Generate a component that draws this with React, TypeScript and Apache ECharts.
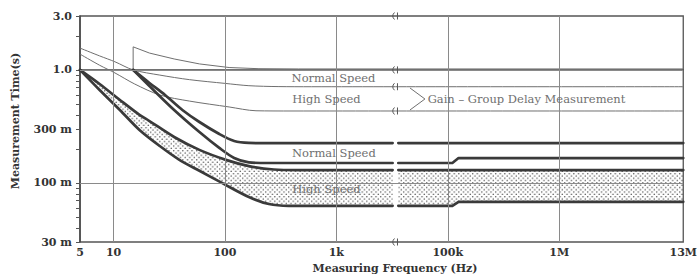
import React, { useEffect, useRef } from "react";
import * as echarts from "echarts";

// ---- axes ----
const xTickFreqs = [5, 10, 100, 1000, 100000, 1000000, 13000000];
const xTickLabels = ["5", "10", "100", "1k", "100k", "1M", "13M"];
const xGridFreqs = [10, 100, 1000, 100000, 1000000];
const yTickTimes = [0.03, 0.1, 0.3, 1, 3];
const yTickLabels = ["30 m", "100 m", "300 m", "1.0", "3.0"];
const yMinorTimes = [0.04, 0.05, 0.06, 0.07, 0.08, 0.09, 0.2, 0.4, 0.5, 0.6, 0.7, 0.8, 0.9, 2];
const yGridTimes = [0.1, 1];

// axis break (frequency gap)
const BREAK_LO = 3200;
const BREAK_HI = 36000;

// ---- Gain - Group Delay measurement (thin curves) [Hz, s] ----
const gdTop = [[15, 1.0], [15, 1.6], [21, 1.41], [35, 1.25], [59, 1.13], [109, 1.05], [202, 1.025], [459, 1.02], [BREAK_LO, 1.02], [BREAK_HI, 1.02], [13000000, 1.02]];
const gdNormal = [[5, 1.56], [7.5, 1.33], [10.3, 1.18], [15, 1.0], [26, 0.9], [48, 0.82], [100, 0.76], [164, 0.725], [300, 0.712], [600, 0.71], [BREAK_LO, 0.71], [BREAK_HI, 0.71], [13000000, 0.71]];
const gdHigh = [[5, 1.38], [7.5, 1.1], [10.3, 0.94], [15.5, 0.75], [26, 0.6], [48, 0.53], [109, 0.47], [190, 0.435], [400, 0.433], [BREAK_LO, 0.433], [BREAK_HI, 0.433], [13000000, 0.433]];

// ---- other measurement, Normal Speed (thick curves) ----
const nsUpper = [[15, 1.0], [21, 0.766], [29, 0.6], [41.5, 0.442], [59, 0.346], [89, 0.271], [121, 0.235], [164, 0.226], [248, 0.225], [BREAK_LO, 0.225], [BREAK_HI, 0.225], [13000000, 0.225]];
const nsLower = [[15, 1.0], [21, 0.72], [35, 0.442], [59, 0.282], [89, 0.204], [121, 0.166], [164, 0.152], [248, 0.15], [BREAK_LO, 0.15], [BREAK_HI, 0.15], [110000, 0.15], [125000, 0.166], [13000000, 0.166]];

// ---- High Speed band (dotted) ----
const hsUpper = [[5, 1.0], [7.5, 0.75], [11.4, 0.542], [17.1, 0.4], [21, 0.353], [35, 0.255], [59, 0.196], [102, 0.16], [164, 0.141], [275, 0.1315], [459, 0.13], [BREAK_LO, 0.13], [BREAK_HI, 0.13], [13000000, 0.13]];
const hsLower = [[5, 1.0], [7.5, 0.664], [11.4, 0.442], [17.1, 0.294], [26, 0.212], [39, 0.16], [59, 0.128], [94, 0.1], [164, 0.075], [248, 0.065], [374, 0.0627], [BREAK_LO, 0.0627], [BREAK_HI, 0.0627], [110000, 0.0627], [125000, 0.068], [13000000, 0.068]];

// ---- helpers ----
const tx = (f: number) => (f >= BREAK_HI ? Math.log10(f) - 1 : Math.log10(f));
const ty = (v: number) => Math.log10(v);
const toXY = (pts: number[][]) => pts.map(([f, v]) => [tx(f), ty(v)]);
const leftPart = (pts: number[][]) => pts.filter((p) => p[0] <= BREAK_LO);
const rightPart = (pts: number[][]) => pts.filter((p) => p[0] >= BREAK_HI);

const SERIF = '"DejaVu Serif", "Liberation Serif", serif';
const THICK = "#3a3a3a";
const THIN = "#6f6f6f";

export default function App() {
  const ref = useRef<HTMLDivElement>(null);
  useEffect(() => {
    document.body.style.margin = "0";
    if (!ref.current) return;
    const chart = echarts.init(ref.current, undefined, { renderer: "svg" });

    const cv = document.createElement("canvas");
    cv.width = 10;
    cv.height = 10;
    const ctx = cv.getContext("2d")!;
    ctx.fillStyle = "rgba(55,55,55,0.9)";
    [[2.5, 2.5], [7.5, 7.5]].forEach(([x, y]) => {
      ctx.beginPath();
      ctx.arc(x, y, 1.6, 0, Math.PI * 2);
      ctx.fill();
    });
    const dots: any = { image: cv, repeat: "repeat", imageWidth: 4.6, imageHeight: 4.6 };

    const thinLine = (name: string, pts: number[][], extra: any = {}) => ({
      name,
      type: "line",
      data: toXY(pts),
      showSymbol: false,
      symbol: "none",
      silent: true,
      z: 3,
      lineStyle: { color: THIN, width: 1 },
      ...extra,
    });
    const thickLine = (name: string, pts: number[][], smooth: number | boolean = false) => ({
      name,
      type: "line",
      data: toXY(pts),
      showSymbol: false,
      symbol: "none",
      silent: true,
      smooth,
      z: 4,
      lineStyle: { color: THICK, width: 2.7, cap: "round", join: "round" },
    });

    const labelFor = (vals: number[], labels: string[], f: (n: number) => number) => (value: number) => {
      const i = vals.findIndex((t) => Math.abs(f(t) - value) < 1e-6);
      return i >= 0 ? labels[i] : "";
    };

    const option: any = {
      animation: false,
      backgroundColor: "#ffffff",
      grid: { left: 80, right: 13, top: 16, bottom: 34, show: true, borderColor: "#555", borderWidth: 1.3 },
      xAxis: {
        type: "value",
        min: tx(5),
        max: tx(13000000),
        axisLine: { show: true, lineStyle: { color: "#444", width: 1.5 } },
        axisTick: { show: false },
        splitLine: { show: false },
        axisLabel: {
          customValues: xTickFreqs.map(tx),
          formatter: labelFor(xTickFreqs, xTickLabels, tx),
          showMinLabel: true,
          showMaxLabel: true,
          color: "#333",
          fontFamily: SERIF,
          fontWeight: "bold",
          fontSize: 11,
          margin: 5,
        },
      },
      yAxis: {
        type: "value",
        min: ty(0.03),
        max: ty(3),
        axisLine: { show: true, lineStyle: { color: "#444", width: 1.5 } },
        axisTick: {
          show: true,
          customValues: [...yTickTimes, ...yMinorTimes].map(ty),
          length: 4,
          lineStyle: { color: "#555", width: 1 },
        },
        splitLine: { show: false },
        axisLabel: {
          customValues: yTickTimes.map(ty),
          formatter: labelFor(yTickTimes, yTickLabels, ty),
          showMinLabel: true,
          showMaxLabel: true,
          color: "#333",
          fontFamily: SERIF,
          fontWeight: "bold",
          fontSize: 11,
          margin: 8,
        },
      },
      graphic: [
        {
          type: "text",
          x: 395,
          y: 268,
          style: { text: "Measuring Frequency (Hz)", fill: "#333", font: `bold 11px ${SERIF}`, align: "center", verticalAlign: "middle" },
        },
        {
          type: "text",
          x: 15,
          y: 121,
          rotation: Math.PI / 2,
          style: { text: "Measurement Time(s)", fill: "#333", font: `bold 11px ${SERIF}`, align: "center", verticalAlign: "middle" },
        },
      ],
      series: [
        {
          name: "band",
          type: "custom",
          silent: true,
          z: 2,
          data: [[1, 0]],
          renderItem: (_p: any, api: any) => {
            const poly = (up: number[][], lo: number[][]) => ({
              type: "polygon",
              shape: { points: [...toXY(up), ...toXY(lo).reverse()].map((p) => api.coord(p)) },
              style: { fill: dots, stroke: "none" },
            });
            return {
              type: "group",
              children: [poly(leftPart(hsUpper), leftPart(hsLower)), poly(rightPart(hsUpper), rightPart(hsLower))],
            };
          },
        },
        thinLine("gdTop", gdTop, {
          markLine: {
            silent: true,
            symbol: ["none", "none"],
            label: { show: false },
            lineStyle: { color: "#8a8a8a", width: 1, type: "solid" },
            data: [...xGridFreqs.map((f) => ({ xAxis: tx(f) })), ...yGridTimes.map((v) => ({ yAxis: ty(v) }))],
          },
        }),
        thinLine("gdNormal", gdNormal, { smooth: 0.3 }),
        thinLine("gdHigh", gdHigh, { smooth: 0.3 }),
        thickLine("nsUpperL", leftPart(nsUpper), 0.3),
        thickLine("nsUpperR", rightPart(nsUpper)),
        thickLine("nsLowerL", leftPart(nsLower), 0.3),
        thickLine("nsLowerR", rightPart(nsLower)),
        thickLine("hsUpperL", leftPart(hsUpper), 0.3),
        thickLine("hsUpperR", rightPart(hsUpper)),
        thickLine("hsLowerL", leftPart(hsLower), 0.3),
        thickLine("hsLowerR", rightPart(hsLower)),
        {
          name: "annotations",
          type: "custom",
          silent: true,
          z: 5,
          clip: false,
          data: [[1, 0]],
          renderItem: (_p: any, api: any) => {
            const P = (f: number, v: number) => api.coord([tx(f), ty(v)]);
            const font = `11.5px ${SERIF}`;
            const txt = (f: number, v: number, text: string, align = "center") => {
              const p = P(f, v);
              return { type: "text", x: p[0], y: p[1], style: { text, fill: "#707070", font, align, verticalAlign: "middle" } };
            };
            const cx = (P(BREAK_LO, 1)[0] + P(BREAK_HI, 1)[0]) / 2;
            const levels = [3, 1, gdNormal[gdNormal.length - 1][1], gdHigh[gdHigh.length - 1][1], 0.03];
            const glyphs: any[] = [];
            levels.forEach((v) => {
              const y = P(1000, v)[1];
              glyphs.push({
                type: "bezierCurve",
                shape: { x1: cx - 1, y1: y - 3.5, x2: cx - 1, y2: y + 3.5, cpx1: cx - 4.5, cpy1: y },
                style: { stroke: "#555", lineWidth: 1, fill: "none" },
              });
              glyphs.push({
                type: "line",
                shape: { x1: cx + 2, y1: y - 3.5, x2: cx + 2, y2: y + 3.5 },
                style: { stroke: "#555", lineWidth: 1 },
              });
            });
            const b1 = P(45800, 0.692);
            const b2 = P(62400, 0.553);
            const b3 = P(45800, 0.442);
            return {
              type: "group",
              children: [
                txt(942, 0.848, "Normal Speed"),
                txt(815, 0.553, "High Speed"),
                txt(950, 0.184, "Normal Speed"),
                txt(815, 0.0883, "High Speed"),
                txt(66000, 0.553, "Gain \u2013 Group Delay Measurement", "left"),
                { type: "polyline", shape: { points: [b1, b2, b3] }, style: { stroke: "#707070", lineWidth: 1, fill: "none" } },
                ...glyphs,
              ],
            };
          },
        },
      ],
    };
    chart.setOption(option);
    return () => chart.dispose();
  }, []);
  return <div ref={ref} style={{ width: 700, height: 276 }} />;
}
